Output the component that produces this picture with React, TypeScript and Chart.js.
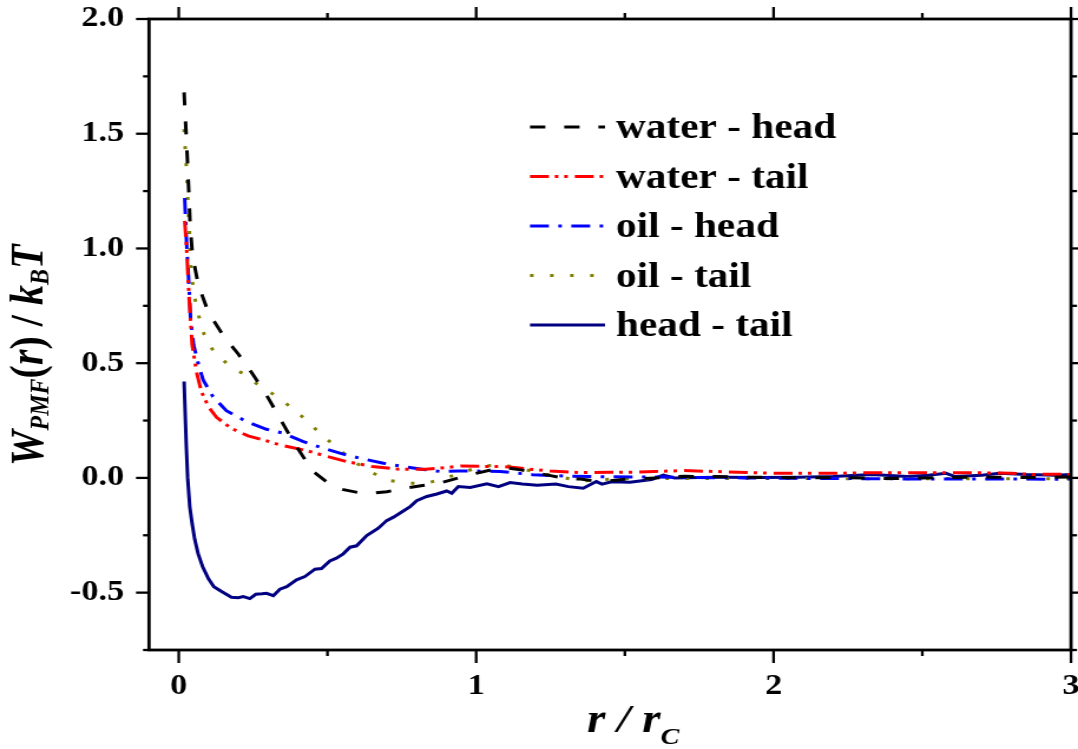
import React, { useEffect, useRef } from 'react';
import { Chart, registerables } from 'chart.js';

Chart.register(...registerables);

// ---------------- data ----------------
const xTickValues = [0, 1, 2, 3];
const xMinorValues = [0.5, 1.5, 2.5];
const yTickValues = [-0.5, 0, 0.5, 1, 1.5, 2];
const yMinorValues = [-0.75, -0.25, 0.25, 0.75, 1.25, 1.75];

const seriesLabels = ['water - head', 'water - tail', 'oil - head', 'oil - tail', 'head - tail'];

const waterHeadR = [0.018, 0.024, 0.029, 0.034, 0.038, 0.046, 0.066, 0.1, 0.15, 0.2, 0.25, 0.3, 0.34, 0.385, 0.45, 0.5, 0.55, 0.6, 0.65, 0.7, 0.76, 0.82, 0.88, 0.94, 1.0, 1.05, 1.1, 1.15, 1.2, 1.25, 1.3, 1.35, 1.4, 1.45, 1.5, 1.55, 1.6, 1.7, 1.8, 1.9, 2.0, 2.1, 2.2, 2.3, 2.4, 2.5, 2.6, 2.7, 2.8, 2.9, 3.0];
const waterHeadW = [1.68, 1.52, 1.39, 1.24, 1.11, 0.97, 0.84, 0.72, 0.62, 0.54, 0.45, 0.35, 0.26, 0.158, 0.03, -0.02, -0.05, -0.063, -0.067, -0.06, -0.045, -0.033, -0.022, 0.0, 0.02, 0.035, 0.044, 0.035, 0.022, 0.01, -0.003, -0.005, -0.013, -0.012, -0.006, -0.004, 0.0, 0.007, 0.006, 0.003, 0.002, 0.0, 0.002, 0.0, -0.003, 0.0, 0.002, 0.003, 0.002, 0.002, 0.004];

const waterTailR = [0.02, 0.026, 0.035, 0.045, 0.06, 0.076, 0.1, 0.127, 0.177, 0.233, 0.3, 0.34, 0.43, 0.5, 0.565, 0.65, 0.74, 0.83, 0.9, 0.95, 1.02, 1.08, 1.13, 1.18, 1.25, 1.35, 1.45, 1.53, 1.6, 1.7, 1.8, 1.88, 2.0, 2.1, 2.2, 2.3, 2.37, 2.45, 2.54, 2.62, 2.7, 2.8, 2.87, 2.95, 3.0];
const waterTailW = [1.12, 1.01, 0.78, 0.58, 0.46, 0.376, 0.31, 0.264, 0.216, 0.183, 0.16, 0.144, 0.119, 0.093, 0.071, 0.05, 0.038, 0.038, 0.045, 0.052, 0.05, 0.05, 0.045, 0.038, 0.03, 0.023, 0.025, 0.025, 0.028, 0.032, 0.028, 0.025, 0.02, 0.02, 0.02, 0.022, 0.023, 0.022, 0.022, 0.022, 0.022, 0.02, 0.015, 0.016, 0.015];

const oilHeadR = [0.02, 0.026, 0.034, 0.04, 0.05, 0.065, 0.082, 0.115, 0.16, 0.228, 0.295, 0.351, 0.419, 0.497, 0.55, 0.609, 0.688, 0.767, 0.83, 0.879, 0.94, 0.99, 1.08, 1.19, 1.3, 1.43, 1.57, 1.72, 1.9, 2.1, 2.25, 2.4, 2.55, 2.68, 2.82, 2.95, 3.0];
const oilHeadW = [1.22, 1.03, 0.85, 0.69, 0.58, 0.5, 0.427, 0.354, 0.293, 0.245, 0.212, 0.195, 0.158, 0.125, 0.105, 0.086, 0.064, 0.047, 0.036, 0.028, 0.03, 0.03, 0.028, 0.014, 0.008, 0.005, 0.004, 0.002, 0.0, -0.002, -0.003, -0.004, -0.005, -0.005, -0.005, -0.006, -0.005];

const oilTailR = [0.018, 0.022, 0.026, 0.029, 0.031, 0.035, 0.037, 0.039, 0.045, 0.054, 0.068, 0.085, 0.113, 0.16, 0.226, 0.275, 0.332, 0.385, 0.435, 0.48, 0.531, 0.581, 0.637, 0.699, 0.767, 0.834, 0.896, 0.963, 1.025, 1.09, 1.15, 1.22, 1.3, 1.35, 1.4, 1.5, 1.6, 1.7, 1.8, 1.9, 2.0, 2.2, 2.4, 2.6, 2.8, 3.0];
const oilTailW = [1.52, 1.43, 1.35, 1.27, 1.19, 1.105, 1.025, 0.944, 0.863, 0.783, 0.703, 0.627, 0.561, 0.5, 0.446, 0.398, 0.354, 0.3, 0.245, 0.187, 0.134, 0.078, 0.032, -0.009, -0.023, -0.023, -0.001, 0.028, 0.052, 0.057, 0.04, 0.02, 0.0, -0.015, -0.008, -0.004, -0.003, -0.003, -0.002, -0.003, -0.003, -0.003, -0.004, -0.003, -0.004, -0.004];

const headTailR = [0.018, 0.025, 0.03, 0.037, 0.045, 0.054, 0.065, 0.08, 0.1, 0.118, 0.144, 0.177, 0.2, 0.217, 0.239, 0.259, 0.28, 0.295, 0.318, 0.34, 0.363, 0.396, 0.424, 0.458, 0.48, 0.508, 0.53, 0.553, 0.576, 0.598, 0.632, 0.671, 0.699, 0.722, 0.755, 0.778, 0.8, 0.834, 0.868, 0.901, 0.918, 0.94, 0.98, 1.036, 1.075, 1.114, 1.155, 1.205, 1.268, 1.31, 1.36, 1.404, 1.423, 1.455, 1.517, 1.59, 1.629, 1.667, 1.75, 1.83, 1.95, 2.08, 2.2, 2.33, 2.45, 2.52, 2.58, 2.61, 2.7, 2.76, 2.85, 2.95, 3.0];
const headTailW = [0.42, 0.15, 0.0, -0.125, -0.2, -0.27, -0.33, -0.386, -0.44, -0.474, -0.495, -0.52, -0.522, -0.517, -0.526, -0.507, -0.505, -0.503, -0.513, -0.485, -0.474, -0.444, -0.43, -0.398, -0.395, -0.362, -0.35, -0.331, -0.302, -0.296, -0.251, -0.219, -0.186, -0.171, -0.144, -0.125, -0.099, -0.081, -0.07, -0.057, -0.067, -0.038, -0.042, -0.026, -0.038, -0.02, -0.027, -0.032, -0.027, -0.038, -0.045, -0.016, -0.027, -0.017, -0.019, -0.007, 0.012, 0.0, 0.002, 0.003, 0.002, 0.003, 0.006, 0.015, 0.006, 0.012, 0.02, 0.006, 0.012, 0.02, 0.015, 0.012, 0.015];

// ---------------- layout / style ----------------
const CSS_W = 1078;
const CSS_H = 749;
const CANVAS_W = 914; // horizontally stretched to CSS_W (matches the reference's aspect)
const S = CSS_W / CANVAS_W;
const FAMILY = '"Liberation Serif", "Times New Roman", serif';

const toPoints = (r: number[], w: number[]) => r.map((v, i) => ({ x: v, y: w[i] }));

const framePlugin = {
  id: 'frame',
  afterDatasetsDraw(chart: any) {
    const { ctx, chartArea, scales } = chart;
    const { left, right, top, bottom } = chartArea;
    const xs = scales.x;
    const ys = scales.y;
    ctx.save();
    ctx.strokeStyle = '#000';
    ctx.lineCap = 'butt';
    ctx.setLineDash([]);
    ctx.lineWidth = 2.3;
    const seg = (x1: number, y1: number, x2: number, y2: number) => {
      ctx.beginPath();
      ctx.moveTo(x1, y1);
      ctx.lineTo(x2, y2);
      ctx.stroke();
    };
    xTickValues.forEach((v) => {
      const p = xs.getPixelForValue(v);
      seg(p, bottom, p, bottom + 13);
      seg(p, top, p, top - 12);
    });
    xMinorValues.forEach((v) => {
      const p = xs.getPixelForValue(v);
      seg(p, bottom, p, bottom + 6);
      seg(p, top, p, top - 6);
    });
    yTickValues.forEach((v) => {
      const p = ys.getPixelForValue(v);
      seg(left, p, left - 13 / S, p);
      seg(right, p, right + 12 / S, p);
    });
    yMinorValues.forEach((v) => {
      const p = ys.getPixelForValue(v);
      seg(left, p, left - 6 / S, p);
      seg(right, p, right + 6 / S, p);
    });
    ctx.lineWidth = 2.8;
    ctx.strokeRect(left, top, right - left, bottom - top);
    ctx.restore();
  },
};

type Part = { t: string; f: string; dy?: number };
const drawRich = (ctx: CanvasRenderingContext2D, parts: Part[], x0: number, y0: number) => {
  let x = x0;
  for (const p of parts) {
    ctx.font = p.f;
    ctx.fillText(p.t, x, y0 + (p.dy || 0));
    x += ctx.measureText(p.t).width;
  }
};

const BIG_I = `italic bold 40px ${FAMILY}`;
const BIG = `bold 40px ${FAMILY}`;
const SUB_I = `italic bold 24px ${FAMILY}`;

const titlesPlugin = {
  id: 'titles',
  afterDraw(chart: any) {
    const ctx: CanvasRenderingContext2D = chart.ctx;
    ctx.save();
    ctx.fillStyle = '#000';
    ctx.textBaseline = 'alphabetic';
    ctx.textAlign = 'left';
    // y axis title (rotated)
    ctx.save();
    ctx.translate(43 / S, 466);
    ctx.rotate(-Math.PI / 2);
    drawRich(ctx, [
      { t: 'W', f: BIG_I },
      { t: 'PMF', f: SUB_I, dy: 5 },
      { t: '(', f: BIG },
      { t: 'r', f: BIG_I },
      { t: ')', f: BIG },
      { t: ' / ', f: BIG },
      { t: 'k', f: BIG_I },
      { t: 'B', f: SUB_I, dy: 5 },
      { t: 'T', f: BIG_I },
    ], 0, 0);
    ctx.restore();
    // x axis title
    drawRich(ctx, [
      { t: 'r', f: BIG_I },
      { t: ' / ', f: BIG_I },
      { t: 'r', f: BIG_I },
      { t: 'C', f: SUB_I, dy: 12 },
    ], 587 / S, 732);
    ctx.restore();
  },
};

const legendPlugin = {
  id: 'customLegend',
  afterDraw(chart: any) {
    const ctx: CanvasRenderingContext2D = chart.ctx;
    ctx.save();
    chart.data.datasets.forEach((ds: any, i: number) => {
      const ly = 127 + i * 49.5;
      ctx.strokeStyle = ds.borderColor;
      ctx.lineWidth = ds.borderWidth;
      ctx.lineCap = 'butt';
      ctx.setLineDash(ds.borderDash || []);
      ctx.beginPath();
      ctx.moveTo(530 / S, ly);
      ctx.lineTo(605 / S, ly);
      ctx.stroke();
      ctx.setLineDash([]);
      ctx.fillStyle = '#000';
      ctx.font = `bold 35px ${FAMILY}`;
      ctx.textBaseline = 'alphabetic';
      ctx.textAlign = 'left';
      ctx.fillText(ds.label, 616 / S, ly + 11);
    });
    ctx.restore();
  },
};

export default function App() {
  const canvasRef = useRef<HTMLCanvasElement | null>(null);

  useEffect(() => {
    const canvas = canvasRef.current;
    if (!canvas) return;
    const lineBase = { pointRadius: 0, tension: 0, fill: false, borderWidth: 3 };
    const chart = new Chart(canvas, {
      type: 'line',
      data: {
        datasets: [
          { ...lineBase, label: seriesLabels[0], data: toPoints(waterHeadR, waterHeadW), borderColor: '#000000', borderDash: [13, 16] },
          { ...lineBase, label: seriesLabels[1], data: toPoints(waterTailR, waterTailW), borderColor: '#ff0000', borderDash: [16, 5, 3, 5, 3, 6] },
          { ...lineBase, label: seriesLabels[2], data: toPoints(oilHeadR, oilHeadW), borderColor: '#0000ff', borderDash: [16, 8, 3, 8] },
          { ...lineBase, label: seriesLabels[3], data: toPoints(oilTailR, oilTailW), borderColor: '#808000', borderDash: [3, 14] },
          { ...lineBase, label: seriesLabels[4], data: toPoints(headTailR, headTailW), borderColor: '#000080' },
        ],
      },
      options: {
        responsive: false,
        devicePixelRatio: 1,
        animation: false,
        events: [],
        layout: { padding: { left: 0, top: 19, right: CANVAS_W - 1071 / S, bottom: 0 } },
        plugins: { legend: { display: false }, tooltip: { enabled: false }, title: { display: false } },
        scales: {
          x: {
            type: 'linear',
            position: 'bottom',
            min: -0.1,
            max: 3.0,
            grid: { display: false, drawTicks: false },
            border: { display: false },
            afterBuildTicks: (s: any) => {
              s.ticks = xTickValues.map((v) => ({ value: v }));
            },
            afterFit: (s: any) => {
              s.height = CSS_H - 650;
              s.paddingLeft = 0;
              s.paddingRight = 0;
            },
            ticks: {
              autoSkip: false,
              maxRotation: 0,
              padding: 19,
              color: '#000',
              font: { family: FAMILY, size: 29, weight: 'bold' },
              callback: (v: any) => String(v),
            },
          },
          y: {
            type: 'linear',
            position: 'left',
            min: -0.75,
            max: 2.0,
            grid: { display: false, drawTicks: false },
            border: { display: false },
            afterBuildTicks: (s: any) => {
              s.ticks = yTickValues.map((v) => ({ value: v }));
            },
            afterFit: (s: any) => {
              s.width = 149 / S;
              s.paddingTop = 0;
              s.paddingBottom = 0;
            },
            ticks: {
              autoSkip: false,
              padding: 149 / S - 124 / S,
              color: '#000',
              font: { family: FAMILY, size: 29, weight: 'bold' },
              callback: (v: any) => Number(v).toFixed(1),
            },
          },
        },
      } as any,
      plugins: [framePlugin, titlesPlugin, legendPlugin],
    });
    return () => chart.destroy();
  }, []);

  return (
    <div style={{ position: 'fixed', left: 0, top: 0, width: CSS_W, height: CSS_H, background: '#fff' }}>
      <canvas
        ref={canvasRef}
        width={CANVAS_W}
        height={CSS_H}
        style={{ width: `${CSS_W}px`, height: `${CSS_H}px`, display: 'block' }}
      />
    </div>
  );
}
